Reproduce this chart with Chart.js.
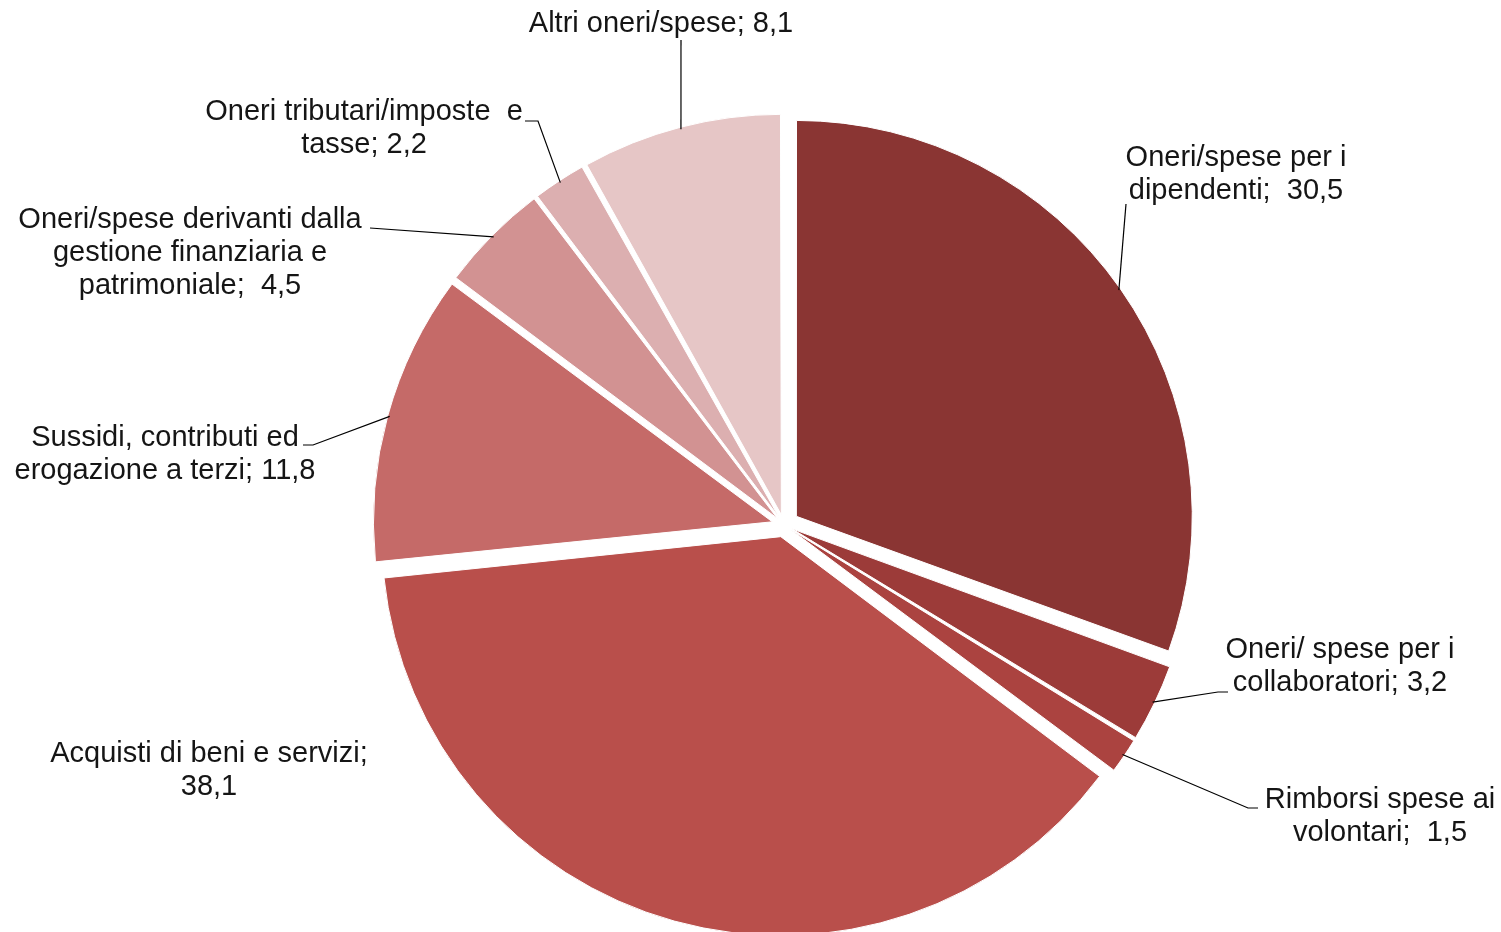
<!DOCTYPE html>
<html>
<head>
<meta charset="utf-8">
<script src="https://cdn.jsdelivr.net/npm/chart.js@4/dist/chart.umd.min.js"></script>
<style>
  html, body { margin: 0; padding: 0; background: #ffffff; }
  #wrap { width: 1501px; height: 932px; position: relative; }
</style>
</head>
<body>
<div id="wrap"><canvas id="c" width="1501" height="932"></canvas></div>
<script>
// ---- data ----
const categories = [
  "Oneri/spese per i dipendenti",
  "Oneri/ spese per i collaboratori",
  "Rimborsi spese ai volontari",
  "Acquisti di beni e servizi",
  "Sussidi, contributi ed erogazione a terzi",
  "Oneri/spese derivanti dalla gestione finanziaria e patrimoniale",
  "Oneri tributari/imposte e tasse",
  "Altri oneri/spese"
];
const values = [30.5, 3.2, 1.5, 38.1, 11.8, 4.5, 2.2, 8.1];
const valueLabels = ["30,5", "3,2", "1,5", "38,1", "11,8", "4,5", "2,2", "8,1"];
const labelLines = [
  ["Oneri/spese per i", "dipendenti;  30,5"],
  ["Oneri/ spese per i", "collaboratori; 3,2"],
  ["Rimborsi spese ai", "volontari;  1,5"],
  ["Acquisti di beni e servizi;", "38,1"],
  ["Sussidi, contributi ed", "erogazione a terzi; 11,8"],
  ["Oneri/spese derivanti dalla", "gestione finanziaria e", "patrimoniale;  4,5"],
  ["Oneri tributari/imposte  e", "tasse; 2,2"],
  ["Altri oneri/spese; 8,1"]
];

// ---- styles / layout (not data) ----
const colors = ["#8a3533", "#9c3b39", "#ab4340", "#b94f4b", "#c56a68", "#d29292", "#dcafb0", "#e6c6c6"];
const explodePx = 16;       // uniform explosion distance in pixels
const pieRadius = 395;
// label layout: text centre x, first line middle y, leader path points (from text toward slice)
const labelLayout = [
  { x: 1236, y: 158, path: [[1126, 204]] },
  { x: 1340, y: 650, path: [[1228, 692], [1218, 692]] },
  { x: 1380, y: 800, path: [[1258, 808], [1248, 808]] },
  { x: 209,  y: 754, path: null },
  { x: 165,  y: 438, path: [[303, 445], [313, 445]] },
  { x: 190,  y: 220, path: [[370, 228]] },
  { x: 364,  y: 112, path: [[525, 121], [538, 121]] },
  { x: 661,  y: 24,  path: [[681, 40]] }
];
const lineHeight = 33;
const labelFont = '29px "Liberation Sans", Arial, sans-serif';

// Convert desired pixel explosion into Chart.js v4 arc offset
const total = values.reduce((a, b) => a + b, 0);
const offsets = values.map(v => {
  const circ = v / total * Math.PI * 2;
  const fix = 1 - Math.sin(Math.min(Math.PI, circ));
  return 4 * explodePx / (1 + fix);
});

function arcShift(el) {
  const circ = el.endAngle - el.startAngle;
  const fix = 1 - Math.sin(Math.min(Math.PI, circ));
  const off = (el.options.offset || 0) / 4;
  return off * (1 + fix);
}

const labelPlugin = {
  id: 'pieLabels',
  afterDraw(chart) {
    const ctx = chart.ctx;
    const meta = chart.getDatasetMeta(0);
    ctx.save();
    ctx.font = labelFont;
    ctx.fillStyle = '#151515';
    ctx.textAlign = 'center';
    ctx.textBaseline = 'middle';
    meta.data.forEach((el, i) => {
      const lay = labelLayout[i];
      labelLines[i].forEach((t, k) => {
        ctx.fillText(t, lay.x, lay.y + k * lineHeight);
      });
      if (lay.path) {
        const mid = (el.startAngle + el.endAngle) / 2;
        const sh = arcShift(el);
        const ax = el.x + Math.cos(mid) * (sh + el.outerRadius - 2);
        const ay = el.y + Math.sin(mid) * (sh + el.outerRadius - 2);
        ctx.beginPath();
        ctx.strokeStyle = '#000000';
        ctx.lineWidth = 1.2;
        ctx.moveTo(lay.path[0][0], lay.path[0][1]);
        for (let k = 1; k < lay.path.length; k++) ctx.lineTo(lay.path[k][0], lay.path[k][1]);
        ctx.lineTo(ax, ay);
        ctx.stroke();
      }
    });
    ctx.restore();
  }
};

new Chart(document.getElementById('c'), {
  type: 'pie',
  data: {
    labels: categories,
    datasets: [{
      data: values,
      backgroundColor: colors,
      borderColor: '#ffffff',
      borderWidth: 1,
      offset: offsets,
      hoverOffset: 0
    }]
  },
  options: {
    responsive: false,
    animation: false,
    radius: pieRadius,
    layout: { padding: { left: 67, right: 0, top: 118, bottom: 0 } },
    plugins: {
      legend: { display: false },
      tooltip: { enabled: false },
      title: { display: false }
    }
  },
  plugins: [labelPlugin]
});
</script>
</body>
</html>
